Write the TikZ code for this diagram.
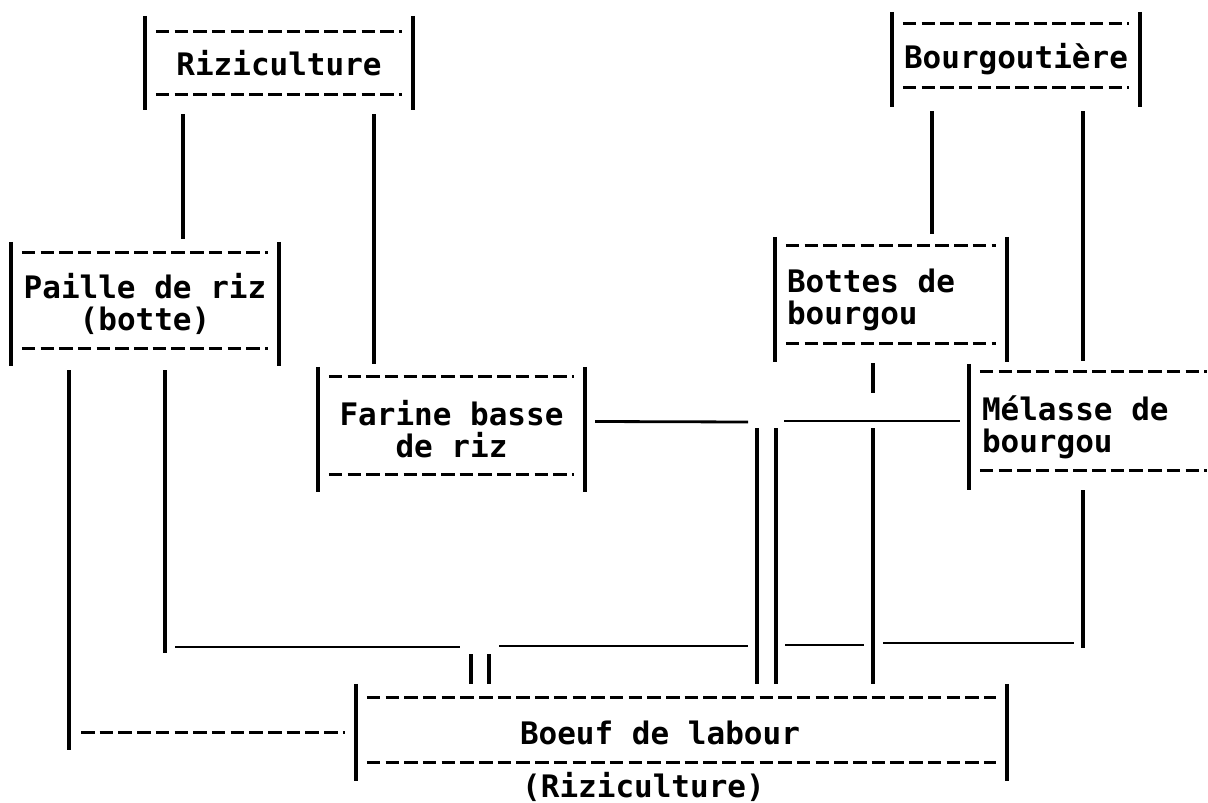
\documentclass[tikz,border=0pt]{standalone}
\usepackage{fontspec}
\setmonofont{DejaVu Sans Mono}
\usetikzlibrary{calc}

\newcommand{\boxfont}{\ttfamily\bfseries\fontsize{31}{32}\selectfont}
% bars left and right of a box
\newcommand{\sidebars}[1]{%
  \draw[bar] (#1.north west) -- (#1.south west);
  \draw[bar] (#1.north east) -- (#1.south east);}
% dashed rules inside a box (top and bottom offsets)
\newcommand{\dashrules}[3]{%
  \draw[rule] ([shift={(11,#2)}]#1.north west) -- ([shift={(-11,#2)}]#1.north east);
  \draw[rule] ([shift={(11,-#3)}]#1.south west) -- ([shift={(-11,-#3)}]#1.south east);}

\begin{document}
\begin{tikzpicture}[
    x=1pt, y=-1pt,
    box/.style={inner ysep=0pt, font=\boxfont,
      execute at begin node={\spaceskip=0.602em\relax\xspaceskip=0.602em\relax}},
    bar/.style={line width=4.5pt},
    rule/.style={line width=3pt, dash pattern=on 13.5pt off 5.2pt},
    vlink/.style={line width=4pt},
    hlink/.style={line width=2.8pt},
    gap/.style={shorten <=4pt, shorten >=3pt}
]
    \useasboundingbox (0,0) rectangle (1208,803);

    % Sources
    \node[box, text width=248pt, inner xsep=10pt, align=center, minimum height=94pt] (riz) at (279,63) {Riziculture};
    \node[box, text width=224pt, inner xsep=12pt, align=center, minimum height=95pt] (bourg) at (1016,59.5) {Bourgoutière};

    % Products
    \node[box, text width=248pt, inner xsep=10pt, align=center, minimum height=124pt] (paille) at (145,304) {Paille de riz\\(botte)};
    \node[box, text width=247pt, inner xsep=10pt, align=center, minimum height=125pt] (farine) at (451.5,429.5) {Farine basse\\de riz};
    \node[box, text width=208pt, inner xsep=12pt, align=left, minimum height=125pt] (bottes) at (891,299.5) {Bottes de\\bourgou};
    \node[box, text width=223pt, inner xsep=13pt, align=left, minimum height=126pt] (melasse) at (1093.5,427) {Mélasse de\\bourgou};

    % Target
    \node[box, text width=323pt, inner xsep=164pt, align=left, minimum height=97pt,
          label={[box, inner sep=0pt, label distance=-9pt, xshift=-38pt]below:(Riziculture)}] (boeuf) at (681.5,732.5) {Boeuf de labour};

    % Box frames
    \sidebars{riz} \dashrules{riz}{16}{16}
    \sidebars{bourg} \dashrules{bourg}{12}{20}
    \sidebars{paille} \dashrules{paille}{11}{18}
    \sidebars{farine} \dashrules{farine}{10}{18}
    \sidebars{bottes} \dashrules{bottes}{9}{19}
    \draw[bar] (melasse.north west) -- (melasse.south west);
    \dashrules{melasse}{8}{20}
    \sidebars{boeuf} \dashrules{boeuf}{14}{19}

    % From the sources
    \draw[vlink, gap] (183,0 |- riz.south) -- (183,0 |- paille.north);
    \draw[vlink, gap] (374,0 |- riz.south) -- (374,0 |- farine.north);
    \draw[vlink, gap] (932,0 |- bourg.south) -- (932,0 |- bottes.north);
    \draw[vlink, gap] (1083,0 |- bourg.south) -- (1083,0 |- melasse.north);

    % Paille to boeuf
    \draw[vlink, shorten <=4pt] (69,0 |- paille.south) -- (69,750);
    \draw[rule] (81,0 |- boeuf.west) -- ([xshift=-11pt]boeuf.west);
    \draw[vlink, shorten <=4pt] (165,0 |- paille.south) -- (165,653);
    \draw[hlink] (175,647) -- (460,647);
    \draw[vlink] (471,654) -- (471,0 |- boeuf.north);
    \draw[vlink] (489,654) -- (489,0 |- boeuf.north);
    \draw[hlink] (499,646) -- (748,646);

    % Farine and bourgou to boeuf
    \draw[hlink] ([shift={(10,-8)}]farine.east) -- (748,422);
    \draw[hlink] (784,421) -- ([shift={(-9,-6)}]melasse.west);
    \draw[vlink] (757,428) -- (757,0 |- boeuf.north);
    \draw[vlink] (776,428) -- (776,0 |- boeuf.north);
    \draw[vlink, shorten <=1pt] (873,0 |- bottes.south) -- (873,393);
    \draw[vlink] (873,428) -- (873,0 |- boeuf.north);
    \draw[hlink] (785,645) -- (864,645);
    \draw[hlink] (883,643) -- (1074,643);
    \draw[vlink] (1083,0 |- melasse.south) -- (1083,648);
\end{tikzpicture}
\end{document}
